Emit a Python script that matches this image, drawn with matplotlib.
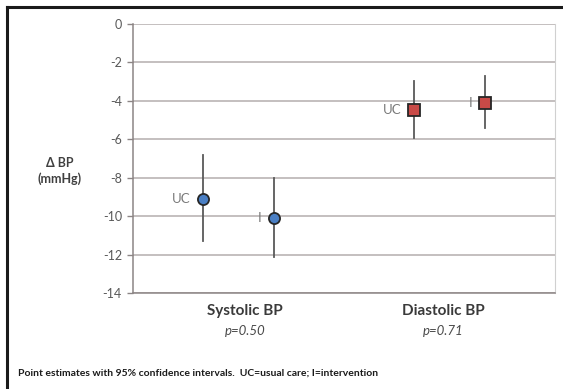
import matplotlib.pyplot as plt
from matplotlib.lines import Line2D

plt.rcParams['font.family'] = ['Lato', 'DejaVu Sans']

# values
categories = ['Systolic BP', 'Diastolic BP']
p_values = ['p=0.50', 'p=0.71']
group_labels = ['UC', 'I', 'UC', 'I']
x_pos = [1, 2, 4, 5]
estimates = [-9.1, -10.1, -4.45, -4.1]
ci_low = [-11.3, -12.15, -5.95, -5.4]
ci_high = [-6.8, -8.0, -2.95, -2.7]
cat_x = [1.59, 4.41]
yticks = [0, -2, -4, -6, -8, -10, -12, -14]

fig = plt.figure(figsize=(5.63, 3.89), dpi=100)
ax = fig.add_axes([133 / 563, 1 - 293 / 389, 422 / 563, 269 / 389])

ax.set_xlim(0, 6)
ax.set_ylim(-14, 0)
ax.set_yticks(yticks)
ax.set_yticklabels([str(t) for t in yticks])
ax.set_xticks([])
ax.yaxis.grid(True, color='#b4aeae', linewidth=1.1)
ax.set_axisbelow(True)
ax.tick_params(axis='y', length=4, width=1, color='#8c8585', labelsize=9,
               labelcolor='#595959', pad=4)
for side in ['left', 'bottom']:
    ax.spines[side].set_color('#8c8585')
    ax.spines[side].set_linewidth(1.1)
ax.spines['right'].set_color('#d0d0d0')
ax.spines['top'].set_visible(False)

colors = ['#4a7fc4', '#4a7fc4', '#c94a47', '#c94a47']
markers = ['o', 'o', 's', 's']
sizes = [8, 8, 9, 9]
for i in range(len(x_pos)):
    ax.plot([x_pos[i], x_pos[i]], [ci_low[i], ci_high[i]], color='#595959',
            linewidth=1.3, zorder=2)
    ax.plot(x_pos[i], estimates[i], marker=markers[i], markersize=sizes[i],
            markerfacecolor=colors[i], markeredgecolor='#262626',
            markeredgewidth=1.3, linestyle='none', zorder=3)
    ax.annotate(group_labels[i], (x_pos[i], estimates[i]), xytext=(-9, 0),
                textcoords='offset points', ha='right', va='center',
                fontsize=9.5, color='#7a7a7a')

for i in range(len(categories)):
    ax.text(cat_x[i], -14.95, categories[i], ha='center', va='center',
            fontsize=11, fontweight='bold', color='#3a3a3a')
    ax.text(cat_x[i], -15.98, p_values[i], ha='center', va='center',
            fontsize=9.5, style='italic', color='#4a4a4a')

fig.text(60 / 563, 1 - 171 / 389, 'Δ BP\n(mmHg)', ha='center', va='center',
         fontsize=9, fontweight='bold', color='#404040', linespacing=1.3)

fig.text(18 / 563, 1 - 373 / 389,
         'Point estimates with 95% confidence intervals.  UC=usual care; I=intervention',
         ha='left', va='center', fontsize=7.5, fontweight='bold', color='#1a1a1a')

# outer frame (left and top edges)
fig.add_artist(Line2D([7 / 563, 7 / 563], [0, 1 - 7 / 389], color='#1a1a1a',
                      linewidth=2.2, transform=fig.transFigure))
fig.add_artist(Line2D([7 / 563, 1], [1 - 7 / 389, 1 - 7 / 389], color='#1a1a1a',
                      linewidth=2.2, transform=fig.transFigure))

fig.savefig('out.png', dpi=100)
